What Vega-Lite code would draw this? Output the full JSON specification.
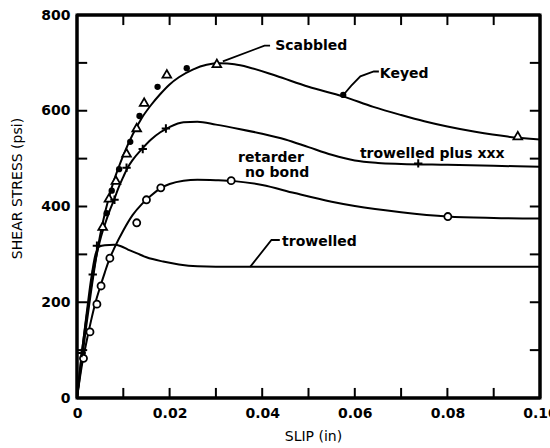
{
  "$schema": "https://vega.github.io/schema/vega-lite/v6.json",
  "width": 463,
  "height": 383,
  "autosize": "none",
  "padding": {"left": 77, "top": 15, "right": 10, "bottom": 50},
  "background": "white",
  "view": {"stroke": "black", "strokeWidth": 3},
  "config": {"font": "DejaVu Sans"},
  "datasets": {
    "curves": [
      {"s": "scabbled", "x": 0, "y": 0}, {"s": "scabbled", "x": 0.001, "y": 75}, {"s": "scabbled", "x": 0.002, "y": 150}, {"s": "scabbled", "x": 0.003, "y": 220}, {"s": "scabbled", "x": 0.004, "y": 285}, {"s": "scabbled", "x": 0.005, "y": 340}, {"s": "scabbled", "x": 0.006, "y": 385}, {"s": "scabbled", "x": 0.007, "y": 422}, {"s": "scabbled", "x": 0.008, "y": 455}, {"s": "scabbled", "x": 0.009, "y": 482}, {"s": "scabbled", "x": 0.010, "y": 507}, {"s": "scabbled", "x": 0.012, "y": 550}, {"s": "scabbled", "x": 0.014, "y": 585}, {"s": "scabbled", "x": 0.016, "y": 612}, {"s": "scabbled", "x": 0.018, "y": 635}, {"s": "scabbled", "x": 0.020, "y": 655}, {"s": "scabbled", "x": 0.022, "y": 670}, {"s": "scabbled", "x": 0.025, "y": 686}, {"s": "scabbled", "x": 0.028, "y": 696}, {"s": "scabbled", "x": 0.031, "y": 699}, {"s": "scabbled", "x": 0.034, "y": 697}, {"s": "scabbled", "x": 0.037, "y": 691}, {"s": "scabbled", "x": 0.043, "y": 673}, {"s": "scabbled", "x": 0.050, "y": 650}, {"s": "scabbled", "x": 0.0575, "y": 630}, {"s": "scabbled", "x": 0.064, "y": 608}, {"s": "scabbled", "x": 0.070, "y": 591}, {"s": "scabbled", "x": 0.075, "y": 578}, {"s": "scabbled", "x": 0.080, "y": 567}, {"s": "scabbled", "x": 0.086, "y": 556}, {"s": "scabbled", "x": 0.093, "y": 546}, {"s": "scabbled", "x": 0.100, "y": 540},
      {"s": "plus", "x": 0, "y": 0}, {"s": "plus", "x": 0.001, "y": 90}, {"s": "plus", "x": 0.002, "y": 165}, {"s": "plus", "x": 0.003, "y": 230}, {"s": "plus", "x": 0.004, "y": 288}, {"s": "plus", "x": 0.005, "y": 330}, {"s": "plus", "x": 0.006, "y": 362}, {"s": "plus", "x": 0.007, "y": 390}, {"s": "plus", "x": 0.008, "y": 414}, {"s": "plus", "x": 0.009, "y": 440}, {"s": "plus", "x": 0.010, "y": 462}, {"s": "plus", "x": 0.011, "y": 482}, {"s": "plus", "x": 0.012, "y": 497}, {"s": "plus", "x": 0.014, "y": 520}, {"s": "plus", "x": 0.016, "y": 540}, {"s": "plus", "x": 0.018, "y": 555}, {"s": "plus", "x": 0.020, "y": 566}, {"s": "plus", "x": 0.023, "y": 576}, {"s": "plus", "x": 0.026, "y": 577}, {"s": "plus", "x": 0.030, "y": 571}, {"s": "plus", "x": 0.035, "y": 562}, {"s": "plus", "x": 0.040, "y": 552}, {"s": "plus", "x": 0.045, "y": 540}, {"s": "plus", "x": 0.050, "y": 524}, {"s": "plus", "x": 0.055, "y": 508}, {"s": "plus", "x": 0.060, "y": 496}, {"s": "plus", "x": 0.065, "y": 491}, {"s": "plus", "x": 0.070, "y": 489}, {"s": "plus", "x": 0.080, "y": 487}, {"s": "plus", "x": 0.090, "y": 485}, {"s": "plus", "x": 0.100, "y": 483},
      {"s": "retarder", "x": 0, "y": 0}, {"s": "retarder", "x": 0.001, "y": 65}, {"s": "retarder", "x": 0.002, "y": 115}, {"s": "retarder", "x": 0.003, "y": 160}, {"s": "retarder", "x": 0.004, "y": 200}, {"s": "retarder", "x": 0.005, "y": 232}, {"s": "retarder", "x": 0.006, "y": 262}, {"s": "retarder", "x": 0.007, "y": 290}, {"s": "retarder", "x": 0.008, "y": 312}, {"s": "retarder", "x": 0.010, "y": 350}, {"s": "retarder", "x": 0.012, "y": 382}, {"s": "retarder", "x": 0.014, "y": 405}, {"s": "retarder", "x": 0.016, "y": 423}, {"s": "retarder", "x": 0.018, "y": 438}, {"s": "retarder", "x": 0.020, "y": 447}, {"s": "retarder", "x": 0.023, "y": 454}, {"s": "retarder", "x": 0.026, "y": 456}, {"s": "retarder", "x": 0.030, "y": 455}, {"s": "retarder", "x": 0.034, "y": 453}, {"s": "retarder", "x": 0.040, "y": 445}, {"s": "retarder", "x": 0.047, "y": 428}, {"s": "retarder", "x": 0.055, "y": 410}, {"s": "retarder", "x": 0.060, "y": 401}, {"s": "retarder", "x": 0.070, "y": 388}, {"s": "retarder", "x": 0.080, "y": 379}, {"s": "retarder", "x": 0.090, "y": 376}, {"s": "retarder", "x": 0.100, "y": 375},
      {"s": "trowelled", "x": 0, "y": 0}, {"s": "trowelled", "x": 0.001, "y": 90}, {"s": "trowelled", "x": 0.002, "y": 170}, {"s": "trowelled", "x": 0.003, "y": 245}, {"s": "trowelled", "x": 0.004, "y": 300}, {"s": "trowelled", "x": 0.0048, "y": 316}, {"s": "trowelled", "x": 0.006, "y": 319}, {"s": "trowelled", "x": 0.008, "y": 320}, {"s": "trowelled", "x": 0.0095, "y": 317}, {"s": "trowelled", "x": 0.011, "y": 310}, {"s": "trowelled", "x": 0.013, "y": 302}, {"s": "trowelled", "x": 0.015, "y": 294}, {"s": "trowelled", "x": 0.0186, "y": 285}, {"s": "trowelled", "x": 0.022, "y": 279}, {"s": "trowelled", "x": 0.026, "y": 275}, {"s": "trowelled", "x": 0.030, "y": 274}, {"s": "trowelled", "x": 0.040, "y": 274}, {"s": "trowelled", "x": 0.070, "y": 274}, {"s": "trowelled", "x": 0.100, "y": 274}
    ],
    "pts": [
      {"m": "tri", "x": 0.00555, "y": 359}, {"m": "tri", "x": 0.0069, "y": 418}, {"m": "tri", "x": 0.0084, "y": 455}, {"m": "tri", "x": 0.0107, "y": 512}, {"m": "tri", "x": 0.0129, "y": 565}, {"m": "tri", "x": 0.0145, "y": 618}, {"m": "tri", "x": 0.0194, "y": 677}, {"m": "tri", "x": 0.0302, "y": 699}, {"m": "tri", "x": 0.0952, "y": 548},
      {"m": "dot", "x": 0.0064, "y": 386}, {"m": "dot", "x": 0.0075, "y": 433}, {"m": "dot", "x": 0.0091, "y": 478}, {"m": "dot", "x": 0.0115, "y": 535}, {"m": "dot", "x": 0.0135, "y": 589}, {"m": "dot", "x": 0.0174, "y": 650}, {"m": "dot", "x": 0.0237, "y": 689}, {"m": "dot", "x": 0.0575, "y": 633},
      {"m": "circ", "x": 0.0014, "y": 83}, {"m": "circ", "x": 0.0028, "y": 138}, {"m": "circ", "x": 0.0043, "y": 196}, {"m": "circ", "x": 0.0052, "y": 234}, {"m": "circ", "x": 0.0071, "y": 292}, {"m": "circ", "x": 0.0129, "y": 366}, {"m": "circ", "x": 0.0150, "y": 414}, {"m": "circ", "x": 0.0181, "y": 439}, {"m": "circ", "x": 0.0333, "y": 454}, {"m": "circ", "x": 0.0801, "y": 379},
      {"m": "plus", "x": 0.001, "y": 94}, {"m": "plus", "x": 0.0034, "y": 258}, {"m": "plus", "x": 0.0043, "y": 318}, {"m": "plus", "x": 0.0081, "y": 414}, {"m": "plus", "x": 0.0107, "y": 481}, {"m": "plus", "x": 0.0142, "y": 520}, {"m": "plus", "x": 0.0192, "y": 563}, {"m": "plus", "x": 0.0737, "y": 490}
    ],
    "notes": [
      {"t": "Scabbled", "x": 0.0428, "y": 735},
      {"t": "Keyed", "x": 0.0654, "y": 677},
      {"t": "trowelled plus xxx", "x": 0.0611, "y": 510},
      {"t": "retarder", "x": 0.0348, "y": 501},
      {"t": "no bond", "x": 0.0363, "y": 470},
      {"t": "trowelled", "x": 0.0443, "y": 326}
    ],
    "leaders": [
      {"g": "a", "o": 1, "x": 0.0417, "y": 736}, {"g": "a", "o": 2, "x": 0.0405, "y": 736}, {"g": "a", "o": 3, "x": 0.0315, "y": 703},
      {"g": "b", "o": 1, "x": 0.0652, "y": 682}, {"g": "b", "o": 2, "x": 0.0641, "y": 682}, {"g": "b", "o": 3, "x": 0.0612, "y": 672}, {"g": "b", "o": 4, "x": 0.0592, "y": 652}, {"g": "b", "o": 5, "x": 0.0578, "y": 636},
      {"g": "c", "o": 1, "x": 0.0438, "y": 330}, {"g": "c", "o": 2, "x": 0.0420, "y": 330}, {"g": "c", "o": 3, "x": 0.0374, "y": 274}
    ],
    "xt": [{"v": 0.01}, {"v": 0.02}, {"v": 0.03}, {"v": 0.04}, {"v": 0.05}, {"v": 0.06}, {"v": 0.07}, {"v": 0.08}, {"v": 0.09}],
    "yt": [{"v": 100}, {"v": 200}, {"v": 300}, {"v": 400}, {"v": 500}, {"v": 600}, {"v": 700}],
    "one": [{"k": 1}]
  },
  "layer": [
    {
      "data": {"name": "curves"},
      "mark": {"type": "line", "interpolate": "monotone", "color": "black", "strokeWidth": 2},
      "encoding": {
        "x": {"field": "x", "type": "quantitative", "scale": {"domain": [0, 0.1], "nice": false},
          "axis": {"orient": "bottom", "grid": false, "domain": false, "ticks": false,
            "values": [0, 0.02, 0.04, 0.06, 0.08, 0.1],
            "labelExpr": "datum.value == 0 ? '0' : format(datum.value, '.2f')",
            "labelFlush": false, "labelOverlap": false, "labelColor": "black", "labelFont": "DejaVu Sans", "labelFontSize": 14, "labelFontWeight": "bold",
            "labelPadding": 8, "title": "SLIP (in)", "titleColor": "black", "titleFont": "DejaVu Sans", "titleFontSize": 14, "titleFontWeight": "normal",
            "titleX": 236, "titleY": 38, "titleBaseline": "middle"}},
        "y": {"field": "y", "type": "quantitative", "scale": {"domain": [0, 800], "nice": false},
          "axis": {"orient": "left", "grid": false, "domain": false, "ticks": false,
            "values": [0, 200, 400, 600, 800],
            "labelFlush": false, "labelOverlap": false, "labelColor": "black", "labelFont": "DejaVu Sans", "labelFontSize": 14, "labelFontWeight": "bold",
            "labelPadding": 7, "title": "SHEAR STRESS (psi)", "titleColor": "black", "titleFont": "DejaVu Sans", "titleFontSize": 14, "titleFontWeight": "normal",
            "titleX": -60, "titleY": 173, "titleBaseline": "middle", "titleAngle": -90, "titleAlign": "center"}},
        "detail": {"field": "s"}
      }
    },
    {
      "data": {"name": "xt"},
      "mark": {"type": "rule", "color": "black", "strokeWidth": 2},
      "encoding": {"x": {"field": "v", "type": "quantitative"}, "y": {"datum": 0, "type": "quantitative"}, "y2": {"datum": 21}}
    },
    {
      "data": {"name": "xt"},
      "mark": {"type": "rule", "color": "black", "strokeWidth": 2},
      "encoding": {"x": {"field": "v", "type": "quantitative"}, "y": {"datum": 779, "type": "quantitative"}, "y2": {"datum": 800}}
    },
    {
      "data": {"name": "yt"},
      "mark": {"type": "rule", "color": "black", "strokeWidth": 2},
      "encoding": {"y": {"field": "v", "type": "quantitative"}, "x": {"datum": 0, "type": "quantitative"}, "x2": {"datum": 0.0022}}
    },
    {
      "data": {"name": "yt"},
      "mark": {"type": "rule", "color": "black", "strokeWidth": 2},
      "encoding": {"y": {"field": "v", "type": "quantitative"}, "x": {"datum": 0.0978, "type": "quantitative"}, "x2": {"datum": 0.1}}
    },
    {
      "data": {"name": "one"},
      "mark": {"type": "rule", "color": "black", "strokeWidth": 3},
      "encoding": {"x": {"datum": 0, "type": "quantitative"}, "y": {"datum": 0, "type": "quantitative"}, "y2": {"datum": 800}}
    },
    {
      "data": {"name": "one"},
      "mark": {"type": "rule", "color": "black", "strokeWidth": 3},
      "encoding": {"x": {"datum": 0.1, "type": "quantitative"}, "y": {"datum": 0, "type": "quantitative"}, "y2": {"datum": 800}}
    },
    {
      "data": {"name": "one"},
      "mark": {"type": "rule", "color": "black", "strokeWidth": 3},
      "encoding": {"y": {"datum": 0, "type": "quantitative"}, "x": {"datum": 0, "type": "quantitative"}, "x2": {"datum": 0.1}}
    },
    {
      "data": {"name": "one"},
      "mark": {"type": "rule", "color": "black", "strokeWidth": 3},
      "encoding": {"y": {"datum": 800, "type": "quantitative"}, "x": {"datum": 0, "type": "quantitative"}, "x2": {"datum": 0.1}}
    },
    {
      "data": {"name": "pts"},
      "transform": [{"filter": "datum.m == 'tri'"}],
      "mark": {"type": "point", "shape": "triangle-up", "filled": false, "stroke": "black", "fill": "white", "fillOpacity": 1, "strokeWidth": 1.8, "size": 75, "opacity": 1},
      "encoding": {
        "x": {"field": "x", "type": "quantitative"},
        "y": {"field": "y", "type": "quantitative"}
      }
    },
    {
      "data": {"name": "pts"},
      "transform": [{"filter": "datum.m == 'dot'"}],
      "mark": {"type": "point", "shape": "circle", "filled": true, "color": "black", "size": 40, "opacity": 1},
      "encoding": {
        "x": {"field": "x", "type": "quantitative"},
        "y": {"field": "y", "type": "quantitative"}
      }
    },
    {
      "data": {"name": "pts"},
      "transform": [{"filter": "datum.m == 'circ'"}],
      "mark": {"type": "point", "shape": "circle", "filled": false, "stroke": "black", "fill": "white", "fillOpacity": 1, "strokeWidth": 1.8, "size": 50, "opacity": 1},
      "encoding": {
        "x": {"field": "x", "type": "quantitative"},
        "y": {"field": "y", "type": "quantitative"}
      }
    },
    {
      "data": {"name": "pts"},
      "transform": [{"filter": "datum.m == 'plus'"}],
      "mark": {"type": "point", "shape": "M-1,0L1,0M0,-1L0,1", "filled": false, "stroke": "black", "strokeWidth": 2, "size": 70, "opacity": 1},
      "encoding": {
        "x": {"field": "x", "type": "quantitative"},
        "y": {"field": "y", "type": "quantitative"}
      }
    },
    {
      "data": {"name": "leaders"},
      "mark": {"type": "line", "color": "black", "strokeWidth": 1.8},
      "encoding": {
        "x": {"field": "x", "type": "quantitative"},
        "y": {"field": "y", "type": "quantitative"},
        "detail": {"field": "g"},
        "order": {"field": "o"}
      }
    },
    {
      "data": {"name": "notes"},
      "mark": {"type": "text", "align": "left", "baseline": "middle", "font": "DejaVu Sans", "fontSize": 14, "fontWeight": "bold", "color": "black"},
      "encoding": {
        "x": {"field": "x", "type": "quantitative"},
        "y": {"field": "y", "type": "quantitative"},
        "text": {"field": "t"}
      }
    }
  ]
}
